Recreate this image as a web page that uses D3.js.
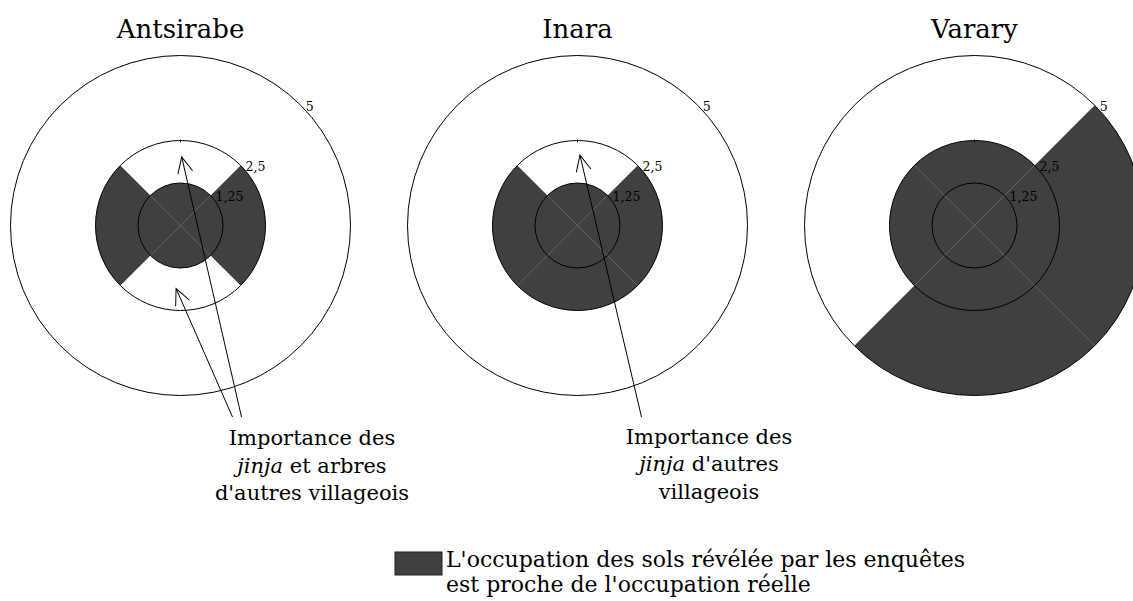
<!DOCTYPE html>
<html>
<head>
<meta charset="utf-8">
<script src="https://cdn.jsdelivr.net/npm/d3@7"></script>
<style>
  body { margin: 0; background: #fff; }
  text { font-family: "DejaVu Serif", serif; fill: #000; }
</style>
</head>
<body>
<div id="chart"></div>
<script>
// Villages and the four sectors (N, E, S, W) of each rose
var TOWNS = ["Antsirabe", "Inara", "Varary"];
var SECTORS = ["N", "E", "S", "W"];

// Sector values, one array per village
var ANTSIRABE_VALUES = [1.25, 2.5, 1.25, 2.5];
var INARA_VALUES = [1.25, 2.5, 2.5, 2.5];
var VARARY_VALUES = [2.5, 5, 5, 2.5];

// Radial ticks and their labels
var RING_TICKS = [1.25, 2.5, 5];
var TICK_LABELS = ["1,25", "2,5", "5"];

// Annotations: arrow tips given in chart units (angle in degrees, radius value)
var ARROW_TOWNS = ["Antsirabe", "Antsirabe", "Inara"];
var ARROW_ANGLES = [1, 184, 2];
var ARROW_VALUES = [2.02, 1.86, 2.07];
var ARROW_TAIL_DX = [61, 52, 64];

var NOTE_TOWNS = ["Antsirabe", "Inara"];
var NOTE_LINES = [
    [["Importance des"], ["jinja", " et arbres"], ["d'autres villageois"]],
    [["Importance des"], ["jinja", " d'autres"], ["villageois"]]
];

var LEGEND_LINES = ["L'occupation des sols révélée par les enquêtes",
                    "est proche de l'occupation réelle"];

var VALUES = [ANTSIRABE_VALUES, INARA_VALUES, VARARY_VALUES];

var WIDTH = 1133, HEIGHT = 601;
var CENTER_Y = 225.5;
var DARK = "#404040";

var svg = d3.select('#chart').append('svg')
    .attr('width', WIDTH)
    .attr('height', HEIGHT);

// Scales
var x = d3.scalePoint().domain(TOWNS).range([180.5, 974.5]);
var r = d3.scaleLinear().domain([0, 5]).range([0, 170]);
var angle = d3.scaleBand().domain(SECTORS).range([-Math.PI / 4, 2 * Math.PI - Math.PI / 4]);

var arc = d3.arc()
    .innerRadius(0)
    .outerRadius(function(d) { return r(d.value); })
    .startAngle(function(d) { return angle(d.sector); })
    .endAngle(function(d) { return angle(d.sector) + angle.bandwidth(); });

// Arrow head
svg.append('defs').append('marker')
    .attr('id', 'arrow')
    .attr('markerUnits', 'userSpaceOnUse')
    .attr('viewBox', '-20 -10 22 20')
    .attr('markerWidth', 22)
    .attr('markerHeight', 20)
    .attr('refX', 0)
    .attr('refY', 0)
    .attr('orient', 'auto')
    .append('path')
        .attr('d', 'M-16,-7.5L0,0L-16,7.5')
        .attr('fill', 'none')
        .attr('stroke', '#000')
        .attr('stroke-width', 1);

function polar(a, v) {
    var rad = a * Math.PI / 180;
    return [r(v) * Math.sin(rad), -r(v) * Math.cos(rad)];
}

TOWNS.forEach(function(town, t) {
    var g = svg.append('g')
        .attr('transform', 'translate(' + x(town) + ',' + CENTER_Y + ')');

    var rows = SECTORS.map(function(s, i) { return {sector: s, value: VALUES[t][i]}; });

    // Sectors
    g.selectAll('path.sector')
        .data(rows)
        .enter()
        .append('path')
            .attr('class', 'sector')
            .attr('d', arc)
            .attr('fill', DARK);

    // Faint lines between sectors
    g.selectAll('line.split')
        .data(rows)
        .enter()
        .append('line')
            .attr('class', 'split')
            .each(function(d, i) {
                var prev = rows[(i + rows.length - 1) % rows.length];
                var a = angle(d.sector);
                var len = r(Math.min(d.value, prev.value));
                d3.select(this)
                    .attr('x1', 0).attr('y1', 0)
                    .attr('x2', len * Math.sin(a))
                    .attr('y2', -len * Math.cos(a));
            })
            .attr('stroke', '#5c5c5c')
            .attr('stroke-width', 0.6);

    // Rings
    g.selectAll('circle.ring')
        .data(RING_TICKS)
        .enter()
        .append('circle')
            .attr('class', 'ring')
            .attr('r', function(d) { return r(d); })
            .attr('fill', 'none')
            .attr('stroke', '#000')
            .attr('stroke-width', 1);

    // Small tick at the top of the middle ring
    g.append('line')
        .attr('x1', 0).attr('x2', 0)
        .attr('y1', -r(2.5) - 1).attr('y2', -r(2.5) + 2)
        .attr('stroke', '#000')
        .attr('stroke-width', 1);

    // Tick labels along the 45 degree direction
    g.selectAll('text.tick')
        .data(RING_TICKS)
        .enter()
        .append('text')
            .attr('class', 'tick')
            .attr('x', function(d) { return polar(45, d)[0] + 5; })
            .attr('y', function(d) { return polar(45, d)[1] + 6; })
            .attr('font-size', 12.5)
            .text(function(d, i) { return TICK_LABELS[i]; });

    // Title
    svg.append('text')
        .attr('x', x(town))
        .attr('y', 38)
        .attr('text-anchor', 'middle')
        .attr('font-size', 26)
        .text(town);
});

// Arrows
ARROW_TOWNS.forEach(function(town, i) {
    var tip = polar(ARROW_ANGLES[i], ARROW_VALUES[i]);
    svg.append('line')
        .attr('x1', x(town) + ARROW_TAIL_DX[i])
        .attr('y1', 417)
        .attr('x2', x(town) + tip[0])
        .attr('y2', CENTER_Y + tip[1])
        .attr('stroke', '#000')
        .attr('stroke-width', 1)
        .attr('marker-end', 'url(#arrow)');
});

// Annotation texts
NOTE_TOWNS.forEach(function(town, i) {
    var txt = svg.append('text')
        .attr('text-anchor', 'middle')
        .attr('font-size', 21);
    NOTE_LINES[i].forEach(function(parts, j) {
        var line = txt.append('tspan')
            .attr('x', x(town) + 131.5)
            .attr('y', 445 - i * 1.5 + j * 27.5);
        parts.forEach(function(p, k) {
            line.append('tspan')
                .attr('font-style', j === 1 && k === 0 ? 'italic' : 'normal')
                .text(p);
        });
    });
});

// Legend
var legend = svg.append('g').attr('transform', 'translate(395,552)');
legend.append('rect')
    .attr('width', 47)
    .attr('height', 23)
    .attr('fill', DARK)
    .attr('stroke', '#222')
    .attr('stroke-width', 1);
legend.selectAll('text')
    .data(LEGEND_LINES)
    .enter()
    .append('text')
        .attr('x', 51)
        .attr('y', function(d, i) { return 15 + i * 25; })
        .attr('font-size', 22)
        .text(function(d) { return d; });
</script>
</body>
</html>
